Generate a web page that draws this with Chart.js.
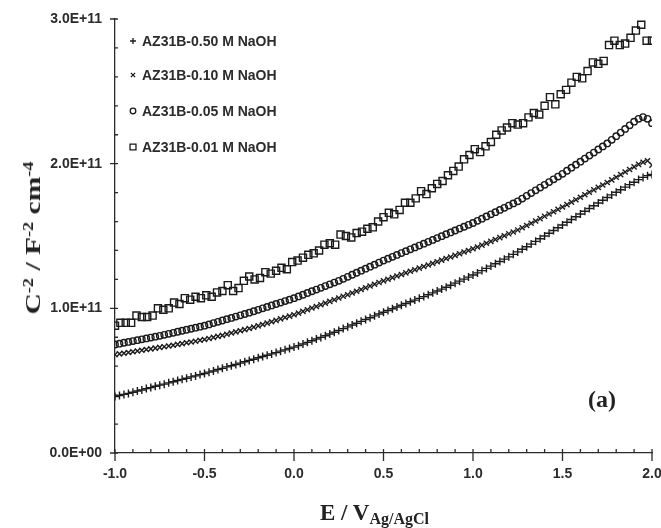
<!DOCTYPE html>
<html>
<head>
<meta charset="utf-8">
<script src="https://cdn.jsdelivr.net/npm/chart.js@4.4.1/dist/chart.umd.min.js"></script>
<style>
    body { margin: 0; background: #fff; }
    #wrap { position: relative; width: 661px; height: 528px; }
    .ttl {
        position: absolute;
        font-family: 'Liberation Serif', 'Times New Roman', serif;
        font-weight: bold;
        color: #222;
        white-space: nowrap;
        line-height: 1;
    }
    .ttl .up { position: relative; top: -0.5em; font-size: 0.62em; }
    .ttl .dn { position: relative; top: 4px; font-size: 16px; }
    #yTitle { left: 33px; top: 238px; font-size: 22px; transform: translate(-50%, -50%) rotate(-90deg) scaleX(1.34); }
    #xTitle { left: 320px; top: 501px; font-size: 23px; }
    #panel { left: 588px; top: 387px; font-size: 24px; }
</style>
</head>
<body>
<div id="wrap">
    <canvas id="msChart"></canvas>
    <div class="ttl" id="yTitle">C<span class="up">-2</span> / F<span class="up">-2</span> cm<span class="up">-4</span></div>
    <div class="ttl" id="xTitle">E / V<span class="dn">Ag/AgCl</span></div>
    <div class="ttl" id="panel">(a)</div>
</div>
<script>
// potential sweep (V vs Ag/AgCl)
const potential = [
    -1, -0.975, -0.95, -0.925, -0.9, -0.875, -0.85, -0.825, -0.8, -0.775,
    -0.75, -0.725, -0.7, -0.675, -0.65, -0.625, -0.6, -0.575, -0.55, -0.525,
    -0.5, -0.475, -0.45, -0.425, -0.4, -0.375, -0.35, -0.325, -0.3, -0.275,
    -0.25, -0.225, -0.2, -0.175, -0.15, -0.125, -0.1, -0.075, -0.05, -0.025,
    0, 0.025, 0.05, 0.075, 0.1, 0.125, 0.15, 0.175, 0.2, 0.225,
    0.25, 0.275, 0.3, 0.325, 0.35, 0.375, 0.4, 0.425, 0.45, 0.475,
    0.5, 0.525, 0.55, 0.575, 0.6, 0.625, 0.65, 0.675, 0.7, 0.725,
    0.75, 0.775, 0.8, 0.825, 0.85, 0.875, 0.9, 0.925, 0.95, 0.975,
    1, 1.025, 1.05, 1.075, 1.1, 1.125, 1.15, 1.175, 1.2, 1.225,
    1.25, 1.275, 1.3, 1.325, 1.35, 1.375, 1.4, 1.425, 1.45, 1.475,
    1.5, 1.525, 1.55, 1.575, 1.6, 1.625, 1.65, 1.675, 1.7, 1.725,
    1.75, 1.775, 1.8, 1.825, 1.85, 1.875, 1.9, 1.925, 1.95, 1.975,
    2
];
// the 0.01 M run was recorded with a coarser step
const potentialCoarse = [
    -1, -0.97, -0.94, -0.91, -0.88, -0.85, -0.82, -0.79, -0.76, -0.73,
    -0.7, -0.67, -0.64, -0.61, -0.58, -0.55, -0.52, -0.49, -0.46, -0.43,
    -0.4, -0.37, -0.34, -0.31, -0.28, -0.25, -0.22, -0.19, -0.16, -0.13,
    -0.1, -0.07, -0.04, -0.01, 0.02, 0.05, 0.08, 0.11, 0.14, 0.17,
    0.2, 0.23, 0.26, 0.29, 0.32, 0.35, 0.38, 0.41, 0.44, 0.47,
    0.5, 0.53, 0.56, 0.59, 0.62, 0.65, 0.68, 0.71, 0.74, 0.77,
    0.8, 0.83, 0.86, 0.89, 0.92, 0.95, 0.98, 1.01, 1.04, 1.07,
    1.1, 1.13, 1.16, 1.19, 1.22, 1.25, 1.28, 1.31, 1.34, 1.37,
    1.4, 1.43, 1.46, 1.49, 1.52, 1.55, 1.58, 1.61, 1.64, 1.67,
    1.7, 1.73, 1.76, 1.79, 1.82, 1.85, 1.88, 1.91, 1.94, 1.97,
    2
];

// C^-2 values, in units of 1E+11 F^-2 cm^4
const naoh050 = [
    0.390, 0.397, 0.405, 0.412, 0.420, 0.429, 0.436, 0.445, 0.452, 0.461,
    0.469, 0.476, 0.485, 0.492, 0.501, 0.509, 0.517, 0.526, 0.533, 0.542,
    0.550, 0.559, 0.567, 0.577, 0.585, 0.595, 0.603, 0.612, 0.621, 0.631,
    0.640, 0.648, 0.658, 0.667, 0.676, 0.685, 0.694, 0.704, 0.713, 0.722,
    0.732, 0.742, 0.753, 0.765, 0.776, 0.788, 0.799, 0.811, 0.823, 0.835,
    0.847, 0.860, 0.872, 0.885, 0.897, 0.910, 0.923, 0.935, 0.948, 0.961,
    0.973, 0.985, 0.997, 1.009, 1.021, 1.033, 1.045, 1.057, 1.069, 1.081,
    1.094, 1.107, 1.120, 1.133, 1.146, 1.160, 1.174, 1.188, 1.202, 1.216,
    1.230, 1.245, 1.261, 1.276, 1.292, 1.308, 1.324, 1.340, 1.356, 1.373,
    1.390, 1.408, 1.426, 1.444, 1.463, 1.481, 1.500, 1.519, 1.538, 1.557,
    1.576, 1.595, 1.614, 1.633, 1.652, 1.671, 1.690, 1.709, 1.728, 1.747,
    1.766, 1.784, 1.802, 1.820, 1.838, 1.855, 1.872, 1.890, 1.905, 1.917,
    1.925
];
const naoh010 = [
    0.680, 0.685, 0.690, 0.695, 0.700, 0.705, 0.710, 0.715, 0.720, 0.725,
    0.730, 0.735, 0.740, 0.745, 0.751, 0.756, 0.762, 0.767, 0.773, 0.779,
    0.785, 0.792, 0.799, 0.806, 0.813, 0.821, 0.829, 0.837, 0.845, 0.853,
    0.861, 0.870, 0.879, 0.888, 0.898, 0.907, 0.917, 0.927, 0.937, 0.946,
    0.956, 0.967, 0.979, 0.990, 1.002, 1.013, 1.025, 1.036, 1.048, 1.059,
    1.071, 1.083, 1.094, 1.106, 1.118, 1.130, 1.142, 1.154, 1.166, 1.178,
    1.190, 1.201, 1.212, 1.223, 1.234, 1.245, 1.256, 1.267, 1.278, 1.289,
    1.300, 1.311, 1.322, 1.333, 1.344, 1.355, 1.366, 1.377, 1.389, 1.400,
    1.412, 1.424, 1.437, 1.450, 1.463, 1.476, 1.489, 1.502, 1.515, 1.528,
    1.542, 1.557, 1.573, 1.588, 1.604, 1.620, 1.636, 1.652, 1.668, 1.684,
    1.700, 1.717, 1.734, 1.751, 1.768, 1.785, 1.802, 1.819, 1.836, 1.853,
    1.870, 1.888, 1.906, 1.924, 1.942, 1.960, 1.978, 1.995, 2.010, 2.020,
    1.990
];
const naoh005 = [
    0.750, 0.756, 0.762, 0.768, 0.774, 0.780, 0.786, 0.792, 0.798, 0.804,
    0.810, 0.817, 0.824, 0.831, 0.838, 0.845, 0.852, 0.859, 0.866, 0.873,
    0.880, 0.889, 0.898, 0.907, 0.916, 0.925, 0.934, 0.943, 0.952, 0.961,
    0.970, 0.980, 0.990, 1.000, 1.010, 1.020, 1.030, 1.040, 1.050, 1.060,
    1.070, 1.082, 1.094, 1.106, 1.118, 1.130, 1.142, 1.154, 1.166, 1.178,
    1.190, 1.204, 1.218, 1.232, 1.246, 1.260, 1.274, 1.288, 1.302, 1.316,
    1.330, 1.343, 1.356, 1.369, 1.382, 1.395, 1.408, 1.421, 1.434, 1.447,
    1.460, 1.473, 1.486, 1.499, 1.512, 1.525, 1.538, 1.551, 1.564, 1.577,
    1.590, 1.605, 1.620, 1.635, 1.650, 1.665, 1.680, 1.695, 1.710, 1.725,
    1.740, 1.759, 1.778, 1.797, 1.816, 1.835, 1.854, 1.873, 1.892, 1.911,
    1.930, 1.951, 1.972, 1.993, 2.014, 2.035, 2.056, 2.077, 2.098, 2.119,
    2.140, 2.165, 2.190, 2.215, 2.240, 2.265, 2.290, 2.310, 2.322, 2.310,
    2.280
];
const naoh001 = [
    0.88, 0.90, 0.90, 0.90, 0.95, 0.94, 0.94, 0.95, 1.00, 0.99,
    1.00, 1.04, 1.03, 1.07, 1.06, 1.08, 1.07, 1.09, 1.08, 1.11,
    1.12, 1.16, 1.12, 1.14, 1.19, 1.22, 1.20, 1.21, 1.25, 1.24,
    1.26, 1.28, 1.27, 1.32, 1.33, 1.35, 1.37, 1.38, 1.40, 1.44,
    1.45, 1.44, 1.51, 1.50, 1.49, 1.52, 1.53, 1.55, 1.56, 1.60,
    1.63, 1.66, 1.65, 1.68, 1.73, 1.73, 1.76, 1.81, 1.79, 1.83,
    1.86, 1.88, 1.92, 1.95, 1.98, 2.03, 2.06, 2.10, 2.08, 2.12,
    2.15, 2.20, 2.23, 2.25, 2.28, 2.27, 2.28, 2.32, 2.35, 2.34,
    2.40, 2.46, 2.41, 2.48, 2.51, 2.56, 2.60, 2.59, 2.64, 2.70,
    2.69, 2.71, 2.82, 2.85, 2.82, 2.83, 2.87, 2.92, 2.96, 2.85,
    2.85
];

const seriesLabels = ['AZ31B-0.50 M NaOH', 'AZ31B-0.10 M NaOH', 'AZ31B-0.05 M NaOH', 'AZ31B-0.01 M NaOH'];
const xTicks = [-1.0, -0.5, 0.0, 0.5, 1.0, 1.5, 2.0];
const yTicks = [0, 1e11, 2e11, 3e11];
const UNIT = 1e11;

const INK = '#1a1a1a';
const AXIS = '#2b2b2b';
const labelFont = { family: "'Liberation Sans', Arial, sans-serif", size: 14, weight: 'bold' };

function toPoints(xs, ys) {
    return xs.map((e, i) => ({ x: e, y: ys[i] * UNIT }));
}

function sciLabel(v) {
    if (v === 0) return '0.0E+00';
    const exp = Math.floor(Math.log10(Math.abs(v)) + 1e-9);
    const mant = v / Math.pow(10, exp);
    return mant.toFixed(1) + 'E+' + String(exp).padStart(2, '0');
}

// marker look per series: +, x, o, square
const markers = [
    { pointStyle: 'cross', radius: 4, legendRadius: 3 },
    { pointStyle: 'crossRot', radius: 3.6, legendRadius: 3 },
    { pointStyle: 'circle', radius: 3.2, legendRadius: 2.8 },
    { pointStyle: 'rect', radius: 5, legendRadius: 4.2 }
];

// major ticks cross the axis, minor ticks point inward
const axisTicks = {
    id: 'axisTicks',
    afterDraw(chart) {
        const { ctx, chartArea: a, scales: { x, y } } = chart;
        ctx.save();
        ctx.strokeStyle = AXIS;
        ctx.lineWidth = 1.3;
        ctx.beginPath();
        for (let i = 0; i <= 30; i++) {
            const px = x.getPixelForValue(-1 + i * 0.1);
            const major = i % 5 === 0;
            ctx.moveTo(px, a.bottom - 4);
            ctx.lineTo(px, a.bottom + (major ? 8 : 0));
        }
        for (let i = 0; i <= 15; i++) {
            const py = y.getPixelForValue(i * 0.2 * UNIT);
            const major = i % 5 === 0;
            ctx.moveTo(a.left - (major ? 5 : 0), py);
            ctx.lineTo(a.left + 3, py);
        }
        ctx.stroke();
        ctx.restore();
    }
};

// legend sits inside the plot, top-left
const insideLegend = {
    id: 'insideLegend',
    afterDraw(chart) {
        const { ctx } = chart;
        const rows = [41, 75, 111, 147];
        ctx.save();
        chart.data.datasets.forEach((ds, i) => {
            ctx.strokeStyle = INK;
            ctx.fillStyle = 'rgba(0,0,0,0)';
            ctx.lineWidth = 1.3;
            Chart.helpers.drawPoint(ctx, {
                pointStyle: markers[i].pointStyle,
                radius: markers[i].legendRadius,
                rotation: 0,
                borderWidth: 1.3
            }, 133, rows[i]);
            ctx.fillStyle = AXIS;
            ctx.font = `bold ${labelFont.size}px ${labelFont.family}`;
            ctx.textBaseline = 'middle';
            ctx.textAlign = 'left';
            ctx.fillText(ds.label, 142, rows[i] + 1);
        });
        ctx.restore();
    }
};

const sets = [
    [potential, naoh050],
    [potential, naoh010],
    [potential, naoh005],
    [potentialCoarse, naoh001]
];

const chart = new Chart(document.getElementById('msChart'), {
    type: 'scatter',
    data: {
        datasets: sets.map(([xs, ys], i) => ({
            label: seriesLabels[i],
            data: toPoints(xs, ys),
            pointStyle: markers[i].pointStyle,
            pointRadius: markers[i].radius,
            pointHoverRadius: markers[i].radius,
            pointBorderWidth: 1.4,
            pointBorderColor: INK,
            pointBackgroundColor: 'rgba(0,0,0,0)'
        }))
    },
    options: {
        responsive: true,
        maintainAspectRatio: false,
        animation: false,
        events: [],
        layout: { padding: { top: 19, right: 9, left: 0, bottom: 0 } },
        plugins: {
            legend: { display: false },
            tooltip: { enabled: false }
        },
        scales: {
            x: {
                type: 'linear',
                min: -1,
                max: 2,
                grid: { display: false },
                border: { color: AXIS, width: 1.3 },
                afterBuildTicks: s => { s.ticks = xTicks.map(v => ({ value: v })); },
                afterFit: s => { s.height = 75; s.paddingLeft = 0; s.paddingRight = 0; },
                ticks: {
                    padding: 5,
                    color: AXIS,
                    font: labelFont,
                    maxRotation: 0,
                    callback: v => Number(v).toFixed(1)
                }
            },
            y: {
                type: 'linear',
                min: 0,
                max: 3 * UNIT,
                grid: { display: false },
                border: { color: AXIS, width: 1.3 },
                afterBuildTicks: s => { s.ticks = yTicks.map(v => ({ value: v })); },
                afterFit: s => { s.width = 115; s.paddingTop = 0; s.paddingBottom = 0; },
                ticks: {
                    padding: 5,
                    color: AXIS,
                    font: labelFont,
                    callback: v => sciLabel(v)
                }
            }
        }
    },
    plugins: [axisTicks, insideLegend]
});
</script>
</body>
</html>
